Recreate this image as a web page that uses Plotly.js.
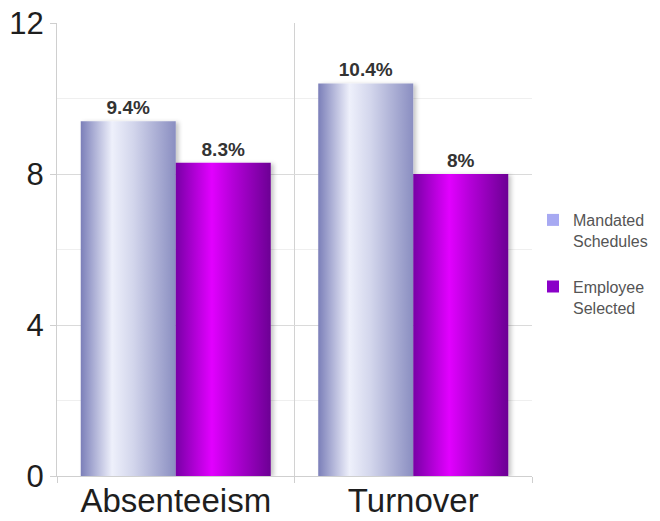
<!DOCTYPE html>
<html>
<head>
<meta charset="utf-8">
<script src="https://cdn.plot.ly/plotly-3.0.1.min.js"></script>
<style>html,body{margin:0;padding:0;background:#fff}</style>
</head>
<body>
<div id="chart" style="width:660px;height:521px"></div>
<script>
// Rates by schedule type
const categories = ['Absenteeism', 'Turnover'];
const mandated = [9.4, 10.4];
const employee = [8.3, 8];
const seriesNames = ['Mandated<br>Schedules', 'Employee<br>Selected'];
const yTickVals = [0, 4, 8, 12];

// solid colours used by the legend swatches
const swatch = ['#a7a9f2', '#8a00c8'];
// cylinder-style shading applied across each bar's width
const shading = [
  [[0, '#7b7fb9'], [0.33, '#eef0fb'], [0.55, '#d3d6ec'], [1, '#8a8ec1']],
  [[0, '#7800a6'], [0.38, '#e200ff'], [0.6, '#b400d8'], [1, '#6c0094']]
];

const font = 'Liberation Sans, Arial, sans-serif';

const traces = [mandated, employee].map((vals, i) => ({
  type: 'bar',
  x: categories,
  y: vals,
  name: seriesNames[i],
  legendgroup: 'g' + i,
  marker: { color: swatch[i], line: { width: 0 } },
  texttemplate: '%{y}%',
  textposition: 'outside',
  cliponaxis: false,
  textfont: { family: font, size: 19, color: '#333', weight: 'bold' },
  hoverinfo: 'skip'
}));

const layout = {
  width: 660, height: 521,
  margin: { l: 57, r: 128, t: 23, b: 45 },
  paper_bgcolor: '#fff', plot_bgcolor: '#fff',
  barmode: 'group', bargap: 0.2, bargroupgap: 0,
  font: { family: font },
  xaxis: {
    type: 'category', tickson: 'boundaries',
    showgrid: true, gridcolor: '#d2d2d2', gridwidth: 1,
    ticks: 'outside', ticklen: 6, tickcolor: '#cfcfcf',
    showline: true, linecolor: '#cfcfcf',
    ticklabelstandoff: -5, automargin: false,
    tickfont: { family: font, size: 33, color: '#1e1e1e' }
  },
  yaxis: {
    range: [0, 12], tickvals: yTickVals, ticktext: yTickVals.map(String),
    showgrid: true, gridcolor: '#dadada',
    minor: { tick0: 0, dtick: 2, showgrid: true, gridcolor: '#efefef', ticks: '' },
    ticks: 'outside', ticklen: 6, tickcolor: '#cfcfcf',
    showline: true, linecolor: '#cfcfcf', zeroline: false, automargin: false,
    tickfont: { family: font, size: 31, color: '#1e1e1e' }
  },
  showlegend: true,
  legend: {
    xref: 'container', yref: 'container',
    x: 533 / 660, xanchor: 'left', y: 1 - 203 / 521, yanchor: 'top',
    traceorder: 'grouped', tracegroupgap: 22, valign: 'top',
    font: { family: font, size: 16, color: '#555' },
    bgcolor: 'rgba(0,0,0,0)'
  }
};

function shadeBars(gd) {
  const svg = gd.querySelector('svg.main-svg');
  const NS = 'http://www.w3.org/2000/svg';
  let defs = svg.querySelector('defs');
  if (!defs) { defs = document.createElementNS(NS, 'defs'); svg.insertBefore(defs, svg.firstChild); }
  if (!defs.querySelector('#barShade0')) {
    shading.forEach((stops, i) => {
      const g = document.createElementNS(NS, 'linearGradient');
      g.setAttribute('id', 'barShade' + i);
      g.setAttribute('x1', '0'); g.setAttribute('x2', '1');
      g.setAttribute('y1', '0'); g.setAttribute('y2', '0');
      stops.forEach(([o, c]) => {
        const s = document.createElementNS(NS, 'stop');
        s.setAttribute('offset', o);
        s.setAttribute('stop-color', c);
        g.appendChild(s);
      });
      defs.appendChild(g);
    });
    const f = document.createElementNS(NS, 'filter');
    f.setAttribute('id', 'barShadow');
    f.setAttribute('x', '-10%'); f.setAttribute('width', '130%');
    f.setAttribute('y', '-5%'); f.setAttribute('height', '110%');
    const ds = document.createElementNS(NS, 'feDropShadow');
    ds.setAttribute('dx', '3'); ds.setAttribute('dy', '1');
    ds.setAttribute('stdDeviation', '2');
    ds.setAttribute('flood-color', '#000');
    ds.setAttribute('flood-opacity', '0.22');
    f.appendChild(ds);
    defs.appendChild(f);
  }
  const groups = gd.querySelectorAll('.barlayer .trace');
  groups.forEach((grp, i) => {
    grp.querySelectorAll('.point path').forEach(p => {
      p.style.fill = 'url(#barShade' + i + ')';
      p.setAttribute('filter', 'url(#barShadow)');
    });
  });
}

const gd = document.getElementById('chart');
Plotly.newPlot(gd, traces, layout, { displayModeBar: false, staticPlot: true })
  .then(() => shadeBars(gd));
gd.on && gd.on('plotly_afterplot', () => shadeBars(gd));
</script>
</body>
</html>
